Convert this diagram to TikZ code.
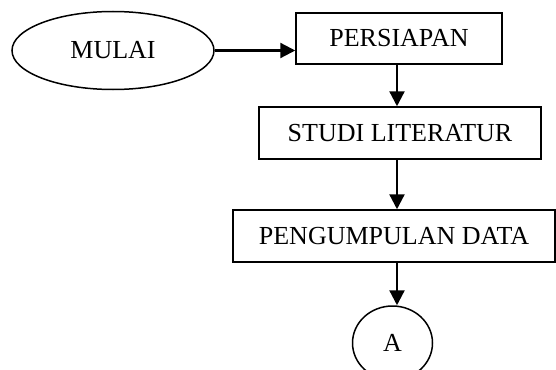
\documentclass[tikz,border=0pt]{standalone}
\usepackage{fontspec}
\setmainfont{Liberation Serif}
\usetikzlibrary{shapes.geometric,arrows.meta}
\tikzset{
  box/.style={draw, line width=1.5pt, rectangle, inner sep=0pt, font=\fontsize{26}{30}\selectfont},
  oval/.style={draw, line width=1.5pt, ellipse, inner sep=0pt, font=\fontsize{26}{30}\selectfont},
  arr/.style={line width=2.3pt, -{Triangle[length=15pt,width=15pt]}}
}
\begin{document}
\begin{tikzpicture}[x=1pt,y=-1pt]
\useasboundingbox (0,0) rectangle (556,369);
\clip (0,0) rectangle (556,369);
\node[oval, minimum width=202pt, minimum height=78pt] (mulai) at (113,50.5) {MULAI};
\node[box, minimum width=206pt, minimum height=51pt] (persiapan) at (399,38.5) {PERSIAPAN};
\node[box, minimum width=282pt, minimum height=52pt] (studi) at (400,133) {STUDI LITERATUR};
\node[box, minimum width=322pt, minimum height=52pt] (data) at (394,236) {PENGUMPULAN DATA};
\node[oval, minimum width=80pt, minimum height=74pt] (a) at (392.5,343) {A};
\coordinate (x1) at (397,0);
\draw[arr] (mulai.east) -- (mulai.east -| persiapan.west);
\draw[arr] (persiapan.south -| x1) -- (studi.north -| x1);
\draw[arr] (studi.south -| x1) -- (data.north -| x1);
\draw[arr] (data.south -| x1) -- (a.north -| x1);
\end{tikzpicture}
\end{document}
